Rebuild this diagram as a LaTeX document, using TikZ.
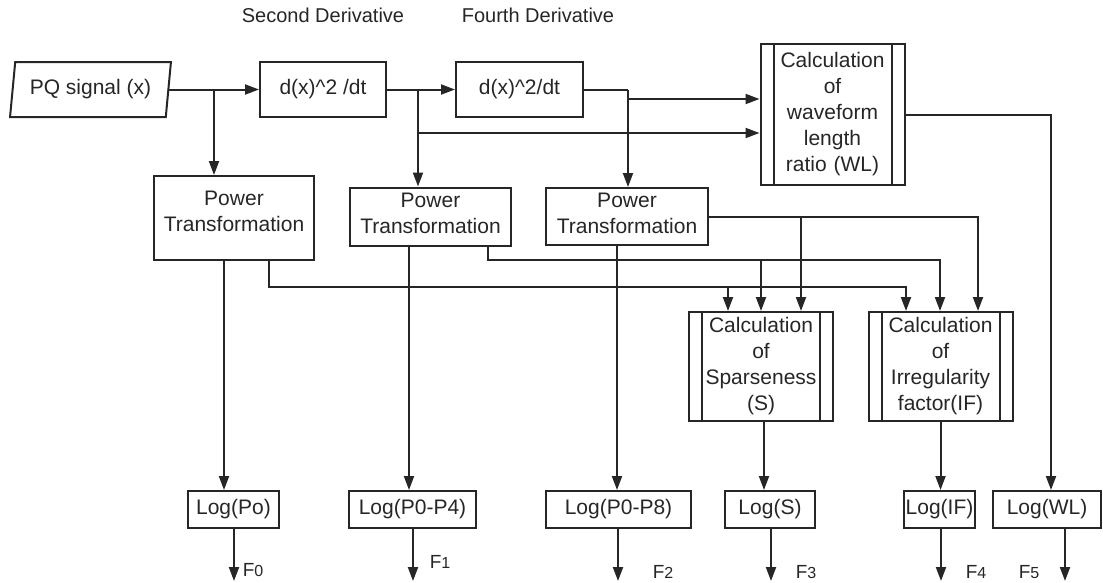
\documentclass[tikz,border=0pt]{standalone}
\usepackage{fontspec}
\setmainfont{Liberation Sans}
\usetikzlibrary{positioning}
\usetikzlibrary{calc}
\usetikzlibrary{arrows.meta}
\usetikzlibrary{shapes.geometric}

\definecolor{inkgray}{HTML}{262626}
\newcommand{\boxfont}{\fontsize{21}{26}\selectfont}
\newcommand{\fout}[1]{{\fontsize{19}{22}\selectfont F{\fontsize{16}{18}\selectfont #1}}}
\newcommand{\powtext}[1]{Power\\Transformation\\[#1]\mbox{}}

\tikzset{
	flowbox/.style={draw, rectangle, inner sep=0pt, align=center, font=\boxfont},
	calcbox/.style={flowbox, minimum width=144pt, text width=118pt},
	logbox/.style={flowbox, minimum height=37pt},
	arr/.style={-{Triangle[length=14pt,width=10pt]}},
	flab/.style={inner sep=0pt}
}

\begin{document}
\begin{tikzpicture}[x=1pt, y=-1pt, line width=2pt, draw=inkgray, text=inkgray]
	\useasboundingbox (0,0) rectangle (1103,582);

	% Headings
	\node [font=\fontsize{20}{24}\selectfont] at (323,15) (hd2) {Second Derivative};
	\node [font=\fontsize{20}{24}\selectfont] at (538,15) (hd4) {Fourth Derivative};

	% Input and derivatives
	\node [draw, trapezium, trapezium left angle=78, trapezium right angle=102, trapezium stretches=true,
		minimum width=161pt, minimum height=55pt, inner sep=0pt, font=\boxfont] at (90.5,89.5) (pq) {PQ signal (x)};
	\node [flowbox, minimum width=126pt, minimum height=55pt] at (323,89.5) (d2nd) {d(x)\^{}2 /dt};
	\node [flowbox, minimum width=127pt, minimum height=55pt] at (519.5,89.5) (d4th) {d(x)\^{}2/dt};
	\node [calcbox, minimum height=141pt] at (832.5,114.5) (wlcalc) {Calculation\\of\\waveform\\length\\ratio (WL)};

	% Power transformations
	\node [flowbox, minimum width=160pt, minimum height=84pt] at (234,218) (pt0) {\powtext{-12pt}};
	\node [flowbox, minimum width=161pt, minimum height=58pt] at (430.5,216.5) (pt1) {\powtext{-20pt}};
	\node [flowbox, minimum width=162pt, minimum height=57pt] at (627,216.5) (pt2) {\powtext{-20pt}};

	% Sparseness and irregularity
	\node [calcbox, minimum height=109pt] at (761,366.5) (spcalc) {Calculation\\of\\Sparseness\\(S)};
	\node [calcbox, minimum height=109pt] at (940.5,366.5) (ifcalc) {Calculation\\of\\Irregularity\\factor(IF)};
	\foreach \n in {wlcalc,spcalc,ifcalc} {
		\draw ([xshift=14pt]\n.north west) -- ([xshift=14pt]\n.south west);
		\draw ([xshift=-14pt]\n.north east) -- ([xshift=-14pt]\n.south east);
	}

	% Logarithms
	\node [logbox, minimum width=91pt] at (233.5,509.5) (logpo) {Log(Po)};
	\node [logbox, minimum width=127pt] at (412.5,509.5) (logp4) {Log(P0-P4)};
	\node [logbox, minimum width=145pt] at (618.5,509.5) (logp8) {Log(P0-P8)};
	\node [logbox, minimum width=90pt] at (770,509.5) (logs) {Log(S)};
	\node [logbox, minimum width=71pt] at (939.5,509.5) (logif) {Log(IF)};
	\node [logbox, minimum width=108pt] at (1047,509.5) (logwl) {Log(WL)};

	% Junctions
	\coordinate (j1) at (214,89.5);
	\coordinate (j2) at (418,89.5);
	\coordinate (j2b) at (418,133);
	\coordinate (j3) at (628,89.5);
	\coordinate (j3b) at (628,99);
	\coordinate (j4) at (1051,114.5);
	\coordinate (a0) at (224,0);
	\coordinate (a1) at (409,0);
	\coordinate (a2) at (617,0);
	\coordinate (k0) at (269,287);
	\coordinate (k0e) at (906,287);
	\coordinate (s0) at (728,287);
	\coordinate (k1) at (488,260);
	\coordinate (k1e) at (940,260);
	\coordinate (s1) at (761,260);
	\coordinate (k2e) at (978,0);
	\coordinate (s2) at (801,0);
	\coordinate (c3) at (764,0);

	% Connections
	\draw [arr] (pq.east) -- (d2nd.west);
	\draw [arr] (j1) -- (j1 |- pt0.north);
	\draw [arr] (d2nd.east) -- (d4th.west);
	\draw [arr] (j2) -- (j2 |- pt1.north);
	\draw [arr] (j2b) -- (j2b -| wlcalc.west);
	\draw (d4th.east) -- (j3);
	\draw [arr] (j3) -- (j3 |- pt2.north);
	\draw [arr] (j3b) -- (j3b -| wlcalc.west);
	\draw [arr] (wlcalc.east) -- (j4) -- (j4 |- logwl.north);

	\draw [arr] (a0 |- pt0.south) -- (a0 |- logpo.north);
	\draw [arr] (k0 |- pt0.south) -- (k0) -- (k0e) -- (k0e |- ifcalc.north);
	\draw [arr] (s0) -- (s0 |- spcalc.north);
	\draw [arr] (a1 |- pt1.south) -- (a1 |- logp4.north);
	\draw [arr] (k1 |- pt1.south) -- (k1) -- (k1e) -- (k1e |- ifcalc.north);
	\draw [arr] (s1) -- (s1 |- spcalc.north);
	\draw [arr] (a2 |- pt2.south) -- (a2 |- logp8.north);
	\draw [arr] (pt2.east) -- (k2e |- pt2.east) -- (k2e |- ifcalc.north);
	\draw [arr] (s2 |- pt2.east) -- (s2 |- spcalc.north);
	\draw [arr] (c3 |- spcalc.south) -- (c3 |- logs.north);
	\draw [arr] (ifcalc.south) -- (ifcalc.south |- logif.north);

	% Outputs
	\foreach \n/\x in {logpo/234, logp4/413, logp8/618, logs/771, logif/941, logwl/1065} {
		\coordinate (o\n) at (\x,581);
		\draw [arr] (o\n |- \n.south) -- (o\n);
	}
	\node [flab] at (253,570) (f0) {\fout{0}};
	\node [flab] at (440,562) (f1) {\fout{1}};
	\node [flab] at (663,572) (f2) {\fout{2}};
	\node [flab] at (806,572) (f3) {\fout{3}};
	\node [flab] at (976,572) (f4) {\fout{4}};
	\node [flab] at (1029,572) (f5) {\fout{5}};

\end{tikzpicture}
\end{document}
